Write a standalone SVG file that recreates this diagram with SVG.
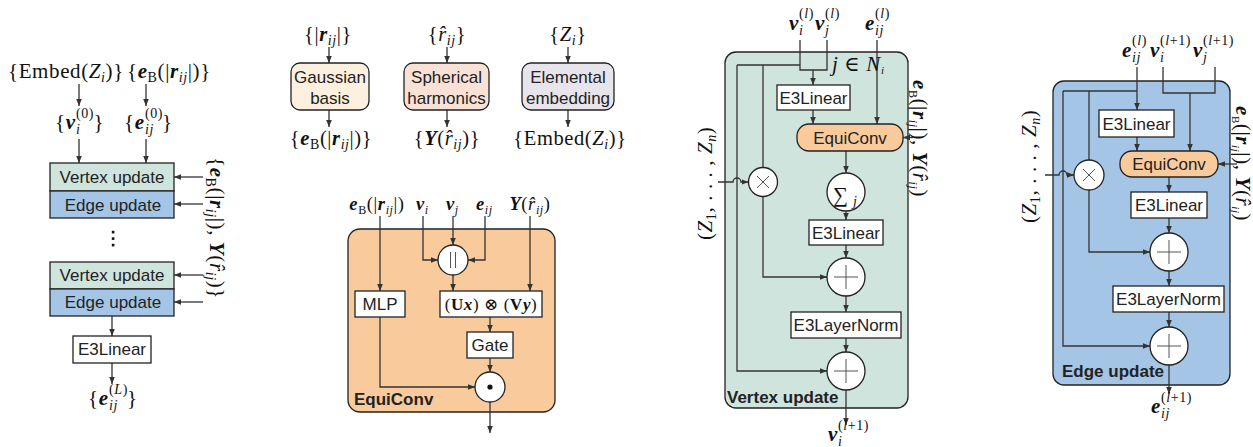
<svg xmlns="http://www.w3.org/2000/svg" width="1253" height="447" viewBox="0 0 1253 447">
<style>
.ln{fill:none;stroke:#333;stroke-width:1.3}
.ar{fill:none;stroke:#333;stroke-width:1.3;marker-end:url(#ah)}
.bx{fill:#fff;stroke:#222;stroke-width:1.3}
.sym{fill:none;stroke:#555;stroke-width:1}
.t{font-family:"Liberation Sans",Arial,sans-serif;font-size:17px;fill:#222;text-anchor:middle}
.b{font-family:"Liberation Sans",Arial,sans-serif;font-size:17px;font-weight:bold;fill:#222}
.m{font-family:"Liberation Serif","DejaVu Serif",serif;font-size:21px;fill:#111;letter-spacing:0.6px}
.m20{font-size:20.5px}
.m18{font-size:18.5px}
.m17{font-size:17px}
.s{font-size:14px}
.ss{font-size:12px}
.bi{font-weight:bold;font-style:italic}
.i{font-style:italic}
.bu{font-weight:bold}
.mid{text-anchor:middle}
.vt{fill:#d0e4de}
.ed{fill:#a5c5e6}
.or{fill:#f9cb9c}
</style>
<defs>
<marker id="ah" viewBox="0 0 10 10" refX="10" refY="5" markerWidth="7" markerHeight="7" markerUnits="userSpaceOnUse" orient="auto"><path d="M0,1 L10,5 L0,9 z" fill="#333"/></marker>
</defs>

<!-- panel backgrounds -->
<g id="equiconv-panel"><rect x="348" y="229" width="207" height="183" rx="12" class="bx or"/></g>
<g id="vertex-update-panel"><rect x="725" y="52" width="183" height="356" rx="11" class="bx vt"/></g>
<g id="edge-update-panel"><rect x="1053" y="81" width="177" height="304" rx="11" class="bx ed"/></g>

<g id="connectors">
<!-- left stack -->
<path class="ar" d="M79,84 V106"/>
<path class="ar" d="M146,84 V106"/>
<path class="ar" d="M79,139 V163"/>
<path class="ar" d="M146,139 V163"/>
<path class="ar" d="M203,177 H174"/>
<path class="ar" d="M203,204 H174"/>
<path class="ar" d="M203,275 H174"/>
<path class="ar" d="M203,302 H174"/>
<path class="ar" d="M112,316 V336"/>
<path class="ar" d="M112,363 V384"/>
<!-- preprocessing -->
<path class="ar" d="M329,47 V63"/>
<path class="ar" d="M329,110 V127"/>
<path class="ar" d="M447,47 V63"/>
<path class="ar" d="M447,110 V127"/>
<path class="ar" d="M568,47 V63"/>
<path class="ar" d="M568,110 V127"/>
<!-- equiconv -->
<path class="ar" d="M380,216 V291"/>
<path class="ar" d="M423,216 V260 H438"/>
<path class="ar" d="M453,216 V245"/>
<path class="ar" d="M485,216 V260 H468"/>
<path class="ar" d="M530,216 V291"/>
<path class="ar" d="M453,275 V291"/>
<path class="ar" d="M490,317 V332"/>
<path class="ar" d="M490,358 V372"/>
<path class="ar" d="M380,317 V387 H475"/>
<path class="ar" d="M490,402 V433"/>
<!-- vertex update -->
<path class="ln" d="M800,40 V70 H827 V40"/>
<path class="ln" d="M800,65 H737"/>
<path class="ar" d="M737,65 V371 H827"/>
<path class="ln" d="M763,65 V167.5"/>
<path class="ar" d="M763,196.5 V277 H827"/>
<path class="ar" d="M813,70 V85"/>
<path class="ar" d="M813,110 V124"/>
<path class="ar" d="M877,40 V124"/>
<path class="ar" d="M913,137.5 H903"/>
<path class="ar" d="M718,182 H733 A4,4 0 0 1 741,182 H748.5"/>
<path class="ar" d="M846,151 V173"/>
<path class="ar" d="M846,211 V220"/>
<path class="ar" d="M846,245 V258"/>
<path class="ar" d="M846,296 V312"/>
<path class="ar" d="M846,338 V352"/>
<path class="ar" d="M846,390 V425"/>
<!-- edge update -->
<path class="ar" d="M1137,67 V110"/>
<path class="ln" d="M1137,91 H1063"/>
<path class="ar" d="M1063,91 V346 H1150"/>
<path class="ln" d="M1089,91 V160"/>
<path class="ar" d="M1089,190 V252 H1150"/>
<path class="ln" d="M1163,67 V93 H1215 V67"/>
<path class="ar" d="M1190,93 V151"/>
<path class="ar" d="M1137,137 V151"/>
<path class="ar" d="M1237,164 H1218"/>
<path class="ar" d="M1045,175 H1059 A4,4 0 0 1 1067,175 H1074"/>
<path class="ar" d="M1169,177 V192"/>
<path class="ar" d="M1169,218 V233"/>
<path class="ar" d="M1169,271 V286"/>
<path class="ar" d="M1169,312 V327"/>
<path class="ar" d="M1169,365 V394"/>
</g>

<!-- ===== left stack ===== -->
<g id="left-inputs">
<text class="m" x="8" y="78">{Embed(<tspan class="i">Z</tspan><tspan class="i s" dy="4">i</tspan><tspan dy="-4">)}</tspan></text>
<text class="m" x="127" y="78">{<tspan class="bi">e</tspan><tspan class="s" dy="4">B</tspan><tspan dy="-4">(|</tspan><tspan class="bi">r</tspan><tspan class="i s" dy="4">ij</tspan><tspan dy="-4">|)}</tspan></text>
</g>
<g id="left-v0">
<text class="m" x="55" y="129">{<tspan class="bi">v</tspan></text>
<text class="m s" x="76" y="118">(0)</text>
<text class="m s i" x="76" y="134">i</text>
<text class="m" x="93.5" y="129">}</text>
</g>
<g id="left-e0">
<text class="m" x="124" y="129">{<tspan class="bi">e</tspan></text>
<text class="m s" x="145" y="118">(0)</text>
<text class="m s i" x="145" y="134">ij</text>
<text class="m" x="162" y="129">}</text>
</g>
<g id="left-layer1">
<rect x="50" y="163" width="124" height="28" class="bx vt"/>
<rect x="50" y="191" width="124" height="27" class="bx ed"/>
<text class="t" x="112" y="183">Vertex update</text>
<text class="t" x="113" y="211">Edge update</text>
</g>
<g id="left-dots" fill="#111">
<rect x="111.8" y="230.8" width="2.6" height="2.6"/>
<rect x="111.8" y="237.3" width="2.6" height="2.6"/>
<rect x="111.8" y="243.8" width="2.6" height="2.6"/>
</g>
<g id="left-layerL">
<rect x="50" y="262" width="124" height="27" class="bx vt"/>
<rect x="50" y="289" width="124" height="27" class="bx ed"/>
<text class="t" x="112" y="281">Vertex update</text>
<text class="t" x="113" y="308">Edge update</text>
</g>
<g id="left-e3linear">
<rect x="73" y="336" width="78" height="27" class="bx"/>
<text class="t" x="112" y="355">E3Linear</text>
</g>
<g id="left-output">
<text class="m" x="88" y="405">{<tspan class="bi">e</tspan></text>
<text class="m s" x="109" y="394">(<tspan class="i">L</tspan>)</text>
<text class="m s i" x="109" y="410">ij</text>
<text class="m" x="127" y="405">}</text>
</g>
<g id="left-side-input">
<text class="m" transform="translate(210,157) rotate(90)" letter-spacing="1.4">{<tspan class="bi">e</tspan><tspan class="s" dy="4">B</tspan><tspan dy="-4">(|</tspan><tspan class="bi">r</tspan><tspan class="i s" dy="4">ij</tspan><tspan dy="-4">|), </tspan><tspan class="bi">Y</tspan><tspan>(</tspan><tspan class="i">r̂</tspan><tspan class="i s" dy="4">ij</tspan><tspan dy="-4">)}</tspan></text>
</g>

<!-- ===== preprocessing ===== -->
<g id="gaussian-basis">
<text class="m m20 mid" x="328" y="41">{|<tspan class="bi">r</tspan><tspan class="i s" dy="4">ij</tspan><tspan dy="-4">|}</tspan></text>
<rect x="291" y="63" width="78" height="47" rx="9" fill="#fdf0df" stroke="#222" stroke-width="1.3"/>
<text class="t" x="330" y="83">Gaussian</text>
<text class="t" x="330" y="104">basis</text>
<text class="m m20 mid" x="331" y="145">{<tspan class="bi">e</tspan><tspan class="s" dy="4">B</tspan><tspan dy="-4">(|</tspan><tspan class="bi">r</tspan><tspan class="i s" dy="4">ij</tspan><tspan dy="-4">|)}</tspan></text>
</g>
<g id="spherical-harmonics">
<text class="m m20 mid" x="447" y="41">{<tspan class="i">r̂</tspan><tspan class="i s" dy="4">ij</tspan><tspan dy="-4">}</tspan></text>
<rect x="404" y="63" width="85" height="47" rx="9" fill="#f9e1d6" stroke="#222" stroke-width="1.3"/>
<text class="t" x="446.5" y="83">Spherical</text>
<text class="t" x="446.5" y="104">harmonics</text>
<text class="m m20 mid" x="447" y="145">{<tspan class="bi">Y</tspan>(<tspan class="i">r̂</tspan><tspan class="i s" dy="4">ij</tspan><tspan dy="-4">)}</tspan></text>
</g>
<g id="elemental-embedding">
<text class="m m20 mid" x="568" y="41">{<tspan class="i">Z</tspan><tspan class="i s" dy="4">i</tspan><tspan dy="-4">}</tspan></text>
<rect x="522" y="63" width="92" height="47" rx="9" fill="#e8e4eb" stroke="#222" stroke-width="1.3"/>
<text class="t" x="568" y="83">Elemental</text>
<text class="t" x="568" y="104">embedding</text>
<text class="m m20 mid" x="570" y="145">{Embed(<tspan class="i">Z</tspan><tspan class="i s" dy="4">i</tspan><tspan dy="-4">)}</tspan></text>
</g>

<!-- ===== EquiConv detail ===== -->
<g id="equiconv-inputs">
<text class="m m18 mid" x="377" y="210"><tspan class="bi">e</tspan><tspan class="ss" dy="4">B</tspan><tspan dy="-4">(|</tspan><tspan class="bi">r</tspan><tspan class="i ss" dy="4">ij</tspan><tspan dy="-4">|)</tspan></text>
<text class="m m18" x="416" y="210"><tspan class="bi">v</tspan><tspan class="i ss" dy="4">i</tspan></text>
<text class="m m18" x="446" y="210"><tspan class="bi">v</tspan><tspan class="i ss" dy="4">j</tspan></text>
<text class="m m18" x="476" y="210"><tspan class="bi">e</tspan><tspan class="i ss" dy="4">ij</tspan></text>
<text class="m m18 mid" x="530" y="210"><tspan class="bi">Y</tspan>(<tspan class="i">r̂</tspan><tspan class="i ss" dy="4">ij</tspan><tspan dy="-4">)</tspan></text>
</g>
<g id="concat">
<circle cx="453" cy="260" r="15" class="bx"/>
<path class="sym" d="M450.5,252 V268 M455.5,252 V268" stroke="#333"/>
</g>
<g id="mlp">
<rect x="355" y="291" width="50" height="26" class="bx"/>
<text class="t" x="380" y="310">MLP</text>
</g>
<g id="tensor-product">
<rect x="440" y="291" width="102" height="26" class="bx"/>
<text class="m m17 mid" x="491" y="310">(<tspan class="bu">U</tspan><tspan class="bi">x</tspan>) ⊗ (<tspan class="bu">V</tspan><tspan class="bi">y</tspan>)</text>
</g>
<g id="gate">
<rect x="467" y="332" width="46" height="26" class="bx"/>
<text class="t" x="490" y="351">Gate</text>
</g>
<g id="odot">
<circle cx="490" cy="387" r="15" class="bx"/>
<circle cx="490" cy="387" r="2.6" fill="#111"/>
</g>
<g id="equiconv-label"><text class="b" x="354" y="405">EquiConv</text></g>

<!-- ===== Vertex update ===== -->
<g id="vu-inputs">
<text class="m bi" x="789" y="30">v</text>
<text class="m s" x="799" y="18">(<tspan class="i">l</tspan>)</text>
<text class="m s i" x="799" y="35">i</text>
<text class="m bi" x="815" y="30">v</text>
<text class="m s" x="825" y="18">(<tspan class="i">l</tspan>)</text>
<text class="m s i" x="825" y="35">j</text>
<text class="m bi" x="865" y="30">e</text>
<text class="m s" x="875" y="18">(<tspan class="i">l</tspan>)</text>
<text class="m s i" x="875" y="35">ij</text>
<text class="m" x="832" y="71" font-size="15"><tspan class="i">j</tspan> ∈ <tspan class="i">N</tspan><tspan class="i" font-size="11" dy="3">i</tspan></text>
</g>
<g id="vu-e3linear1">
<rect x="777" y="85" width="73" height="25" class="bx"/>
<text class="t" x="813.5" y="104">E3Linear</text>
</g>
<g id="vu-equiconv">
<rect x="797" y="124" width="106" height="27" rx="12" class="bx or"/>
<text class="t" x="850" y="143.5">EquiConv</text>
</g>
<g id="vu-side-input">
<text class="m" font-size="17" transform="translate(913,80) rotate(90)"><tspan class="bi">e</tspan><tspan dy="4" font-size="12">B</tspan><tspan dy="-4">(|</tspan><tspan class="bi">r</tspan><tspan class="i" font-size="12" dy="4">ij</tspan><tspan dy="-4">|), </tspan><tspan class="bi">Y</tspan><tspan>(</tspan><tspan class="i">r̂</tspan><tspan class="i" font-size="12" dy="4">ij</tspan><tspan dy="-4">)</tspan></text>
</g>
<g id="vu-z-input">
<text class="m" transform="translate(712,240) rotate(-90)">(<tspan class="i">Z</tspan><tspan class="s" dy="4">1</tspan><tspan dy="-4">, . . . , </tspan><tspan class="i">Z</tspan><tspan class="i s" dy="4">n</tspan><tspan dy="-4">)</tspan></text>
</g>
<g id="vu-times">
<circle cx="763" cy="182" r="14.5" class="bx"/>
<path class="sym" d="M757,176 L769,188 M769,176 L757,188"/>
</g>
<g id="vu-sum">
<circle cx="846" cy="192" r="19" class="bx"/>
<text class="m" x="833" y="202" font-size="28">∑</text>
<text class="m s i" x="853" y="206">j</text>
</g>
<g id="vu-e3linear2">
<rect x="809" y="220" width="74" height="25" class="bx"/>
<text class="t" x="846" y="239">E3Linear</text>
</g>
<g id="vu-plus1">
<circle cx="846" cy="277" r="19" class="bx"/>
<path class="sym" d="M834,277 H858 M846,265 V289"/>
</g>
<g id="vu-layernorm">
<rect x="791" y="312" width="110" height="26" class="bx"/>
<text class="t" x="846" y="331">E3LayerNorm</text>
</g>
<g id="vu-plus2">
<circle cx="846" cy="371" r="19" class="bx"/>
<path class="sym" d="M834,371 H858 M846,359 V383"/>
</g>
<g id="vu-label"><text class="b" x="727" y="403">Vertex update</text></g>
<g id="vu-output">
<text class="m bi" x="828" y="441">v</text>
<text class="m s" x="838" y="430">(<tspan class="i">l</tspan>+1)</text>
<text class="m s i" x="838" y="446">i</text>
</g>

<!-- ===== Edge update ===== -->
<g id="eu-inputs">
<text class="m bi" x="1122" y="57">e</text>
<text class="m s" x="1132" y="45">(<tspan class="i">l</tspan>)</text>
<text class="m s i" x="1132" y="62">ij</text>
<text class="m bi" x="1150" y="57">v</text>
<text class="m s" x="1160" y="45">(<tspan class="i">l</tspan>+1)</text>
<text class="m s i" x="1160" y="62">i</text>
<text class="m bi" x="1193" y="57">v</text>
<text class="m s" x="1203" y="45">(<tspan class="i">l</tspan>+1)</text>
<text class="m s i" x="1203" y="62">j</text>
</g>
<g id="eu-e3linear1">
<rect x="1099" y="110" width="75" height="27" class="bx"/>
<text class="t" x="1136.5" y="129.5">E3Linear</text>
</g>
<g id="eu-equiconv">
<rect x="1120" y="151" width="98" height="26" rx="12" class="bx or"/>
<text class="t" x="1169" y="170">EquiConv</text>
</g>
<g id="eu-side-input">
<text class="m" font-size="16" transform="translate(1236,106) rotate(90)"><tspan class="bi">e</tspan><tspan dy="4" font-size="11">B</tspan><tspan dy="-4">(|</tspan><tspan class="bi">r</tspan><tspan class="i" font-size="11" dy="4">ij</tspan><tspan dy="-4">|), </tspan><tspan class="bi">Y</tspan><tspan>(</tspan><tspan class="i">r̂</tspan><tspan class="i" font-size="11" dy="4">ij</tspan><tspan dy="-4">)</tspan></text>
</g>
<g id="eu-z-input">
<text class="m" transform="translate(1036,223) rotate(-90)">(<tspan class="i">Z</tspan><tspan class="s" dy="4">1</tspan><tspan dy="-4">, . . . , </tspan><tspan class="i">Z</tspan><tspan class="i s" dy="4">n</tspan><tspan dy="-4">)</tspan></text>
</g>
<g id="eu-times">
<circle cx="1089" cy="175" r="15" class="bx"/>
<path class="sym" d="M1083,169 L1095,181 M1095,169 L1083,181"/>
</g>
<g id="eu-e3linear2">
<rect x="1131" y="192" width="76" height="26" class="bx"/>
<text class="t" x="1169" y="211">E3Linear</text>
</g>
<g id="eu-plus1">
<circle cx="1169" cy="252" r="19" class="bx"/>
<path class="sym" d="M1157,252 H1181 M1169,240 V264"/>
</g>
<g id="eu-layernorm">
<rect x="1113" y="286" width="111" height="26" class="bx"/>
<text class="t" x="1168.5" y="305">E3LayerNorm</text>
</g>
<g id="eu-plus2">
<circle cx="1169" cy="346" r="19" class="bx"/>
<path class="sym" d="M1157,346 H1181 M1169,334 V358"/>
</g>
<g id="eu-label"><text class="b" x="1062" y="377">Edge update</text></g>
<g id="eu-output">
<text class="m bi" x="1151" y="413">e</text>
<text class="m s" x="1161" y="402">(<tspan class="i">l</tspan>+1)</text>
<text class="m s i" x="1161" y="418">ij</text>
</g>
</svg>
